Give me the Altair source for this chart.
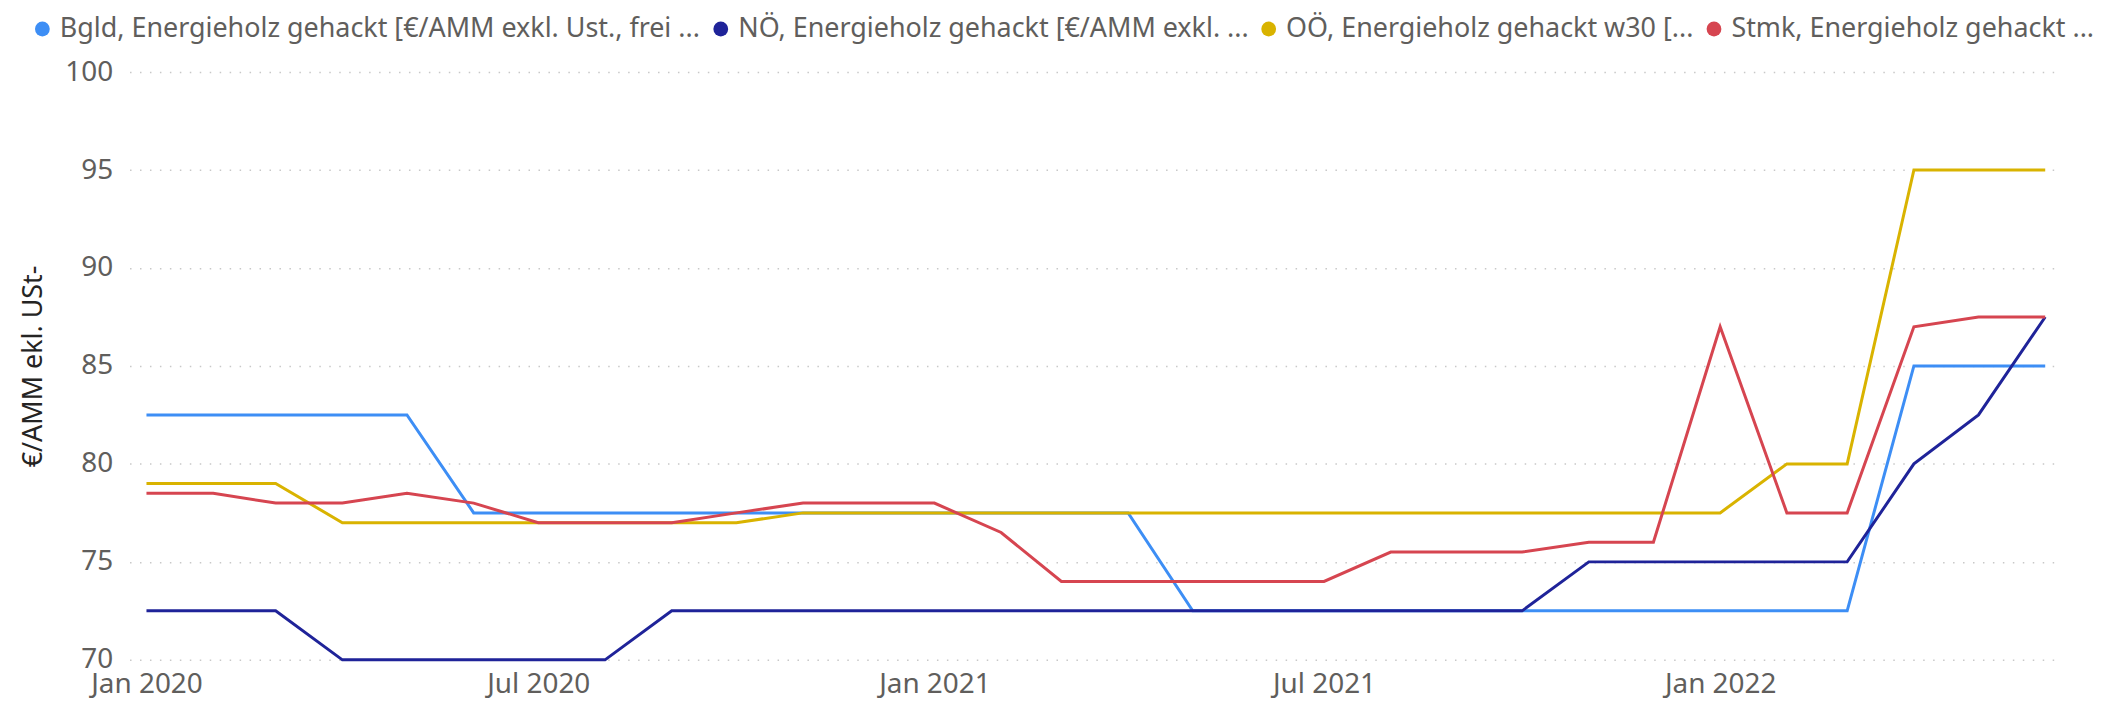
import altair as alt
import pandas as pd

months = pd.date_range("2020-01-01", "2022-06-01", freq="MS").strftime("%Y-%m-%d").tolist()

series_names = [
    "Bgld, Energieholz gehackt [€/AMM exkl. Ust., frei ...",
    "NÖ, Energieholz gehackt [€/AMM exkl. ...",
    "OÖ, Energieholz gehackt w30 [...",
    "Stmk, Energieholz gehackt ...",
]
colors = ["#3D8EF5", "#1F2399", "#D9B300", "#D64550"]

bgld = [82.5, 82.5, 82.5, 82.5, 82.5,
        77.5, 77.5, 77.5, 77.5, 77.5, 77.5, 77.5, 77.5, 77.5, 77.5, 77.5,
        72.5, 72.5, 72.5, 72.5, 72.5, 72.5, 72.5, 72.5, 72.5, 72.5, 72.5,
        85, 85, 85]
noe = [72.5, 72.5, 72.5,
       70, 70, 70, 70, 70,
       72.5, 72.5, 72.5, 72.5, 72.5, 72.5, 72.5, 72.5, 72.5, 72.5, 72.5, 72.5, 72.5, 72.5,
       75, 75, 75, 75, 75,
       80, 82.5, 87.5]
ooe = [79, 79, 79,
       77, 77, 77, 77, 77, 77, 77,
       77.5, 77.5, 77.5, 77.5, 77.5, 77.5, 77.5, 77.5, 77.5, 77.5, 77.5, 77.5, 77.5, 77.5, 77.5,
       80, 80,
       95, 95, 95]
stmk = [78.5, 78.5, 78, 78, 78.5, 78, 77, 77, 77, 77.5, 78, 78,
        78, 76.5, 74, 74, 74, 74, 74, 75.5, 75.5, 75.5, 76, 76,
        87, 77.5, 77.5, 87, 87.5, 87.5]

rows = []
for name, vals in zip(series_names, [bgld, noe, ooe, stmk]):
    for m, v in zip(months, vals):
        rows.append({"Monat": m, "Wert": v, "Serie": name})
df = pd.DataFrame(rows)

FONT = "Noto Sans"
GREY = "#605E5C"

x_enc = alt.X("Monat:T",
              scale=alt.Scale(type="utc", padding=17, nice=False),
              axis=alt.Axis(title=None,
                            labelExpr="utcFormat(datum.value, '%b %Y')",
                            tickCount={"interval": "month", "step": 6},
                            grid=False, domain=False, ticks=False,
                            labelPadding=11, labelFontSize=28, labelColor=GREY,
                            labelFont=FONT))
y_enc = alt.Y("Wert:Q",
              scale=alt.Scale(domain=[70, 100], nice=False, zero=False),
              axis=alt.Axis(title="€/AMM ekl. USt-", values=[70, 75, 80, 85, 90, 95, 100],
                            domain=False, ticks=False, labelPadding=17,
                            labelFontSize=28, labelColor=GREY, labelFont=FONT,
                            titleFont=FONT, titleFontSize=27, titleFontWeight="normal",
                            titleColor="#252423", titlePadding=17,
                            grid=True, gridColor="#C8C8C8", gridDash=[1.5, 8.5],
                            gridWidth=1.5))
color_scale = alt.Scale(domain=series_names, range=colors)

base = alt.Chart(df)

lines = base.mark_line(strokeWidth=3).encode(
    x=x_enc, y=y_enc,
    color=alt.Color("Serie:N", scale=color_scale, legend=None),
)

legend_pts = base.mark_point(filled=True, opacity=0, size=1).encode(
    x=x_enc, y=y_enc,
    color=alt.Color("Serie:N", scale=color_scale,
                    legend=alt.Legend(title=None, orient="none", direction="horizontal",
                                      legendX=-101, legendY=-57, symbolType="circle",
                                      symbolSize=220, symbolOpacity=1, symbolStrokeWidth=0,
                                      labelFont=FONT, labelFontSize=27, labelColor=GREY,
                                      labelLimit=1000, columnPadding=6, symbolOffset=0,
                                      labelOffset=4, padding=0)),
)

chart = alt.layer(lines, legend_pts).resolve_legend(color="independent").properties(
    width=1940, height=590,
    autosize=alt.AutoSizeParams(type="none"),
    padding={"left": 122, "top": 63, "right": 40, "bottom": 40},
).configure_view(stroke=None)

chart.save("out.html", embed_options={"renderer": "svg", "actions": False})
